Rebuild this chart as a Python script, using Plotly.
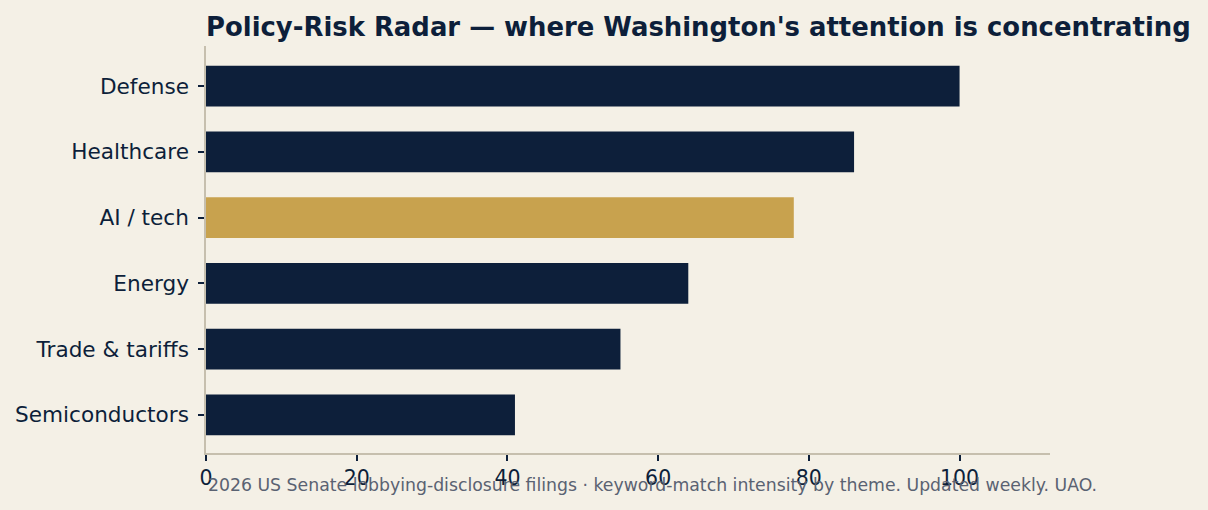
import plotly.graph_objects as go

categories = ["Defense", "Healthcare", "AI / tech", "Energy", "Trade & tariffs", "Semiconductors"]
values = [100, 86, 78, 64, 55, 41]
highlight = "AI / tech"

NAVY = "#0d1f3a"
GOLD = "#c8a24e"
BG = "#f4f0e6"
AXIS = "#c6bfae"

colors = [GOLD if c == highlight else NAVY for c in categories]

fig = go.Figure(go.Bar(
    x=values, y=categories, orientation="h",
    marker=dict(color=colors, line=dict(width=0)),
    width=0.62, hoverinfo="x+y",
))

fig.update_layout(
    width=1208, height=510,
    paper_bgcolor=BG, plot_bgcolor=BG,
    margin=dict(l=206, r=158, t=46, b=57),
    font=dict(family="DejaVu Sans", color=NAVY, size=20),
    showlegend=False,
    title=dict(
        text="<b>Policy-Risk Radar — where Washington's attention is concentrating</b>",
        x=0, xref="paper", xanchor="left",
        y=1 - 27 / 510, yref="container", yanchor="middle",
        font=dict(family="DejaVu Sans", size=25.9, color=NAVY),
    ),
    annotations=[dict(
        text="2026 US Senate lobbying-disclosure filings · keyword-match intensity by theme. Updated weekly. UAO.",
        x=0, xref="paper", xanchor="left",
        y=-32 / 407, yref="paper", yanchor="middle",
        showarrow=False,
        font=dict(family="DejaVu Sans", size=17.3, color="#5a6272"),
    )],
)

fig.update_xaxes(
    range=[0, 112], tickvals=[0, 20, 40, 60, 80, 100],
    showgrid=False, zeroline=False,
    showline=True, linecolor=AXIS, linewidth=1.5,
    ticks="outside", ticklen=6, tickwidth=1.5, tickcolor=NAVY,
    tickfont=dict(size=20.5, color=NAVY),
    ticklabelstandoff=0,
)
fig.update_yaxes(
    autorange=False, range=[5.58, -0.61],
    showgrid=False, zeroline=False,
    showline=True, linecolor=AXIS, linewidth=1.5,
    ticks="outside", ticklen=6, tickwidth=1.5, tickcolor=NAVY,
    tickfont=dict(size=21.6, color=NAVY),
    ticklabelstandoff=5,
)

fig.write_html("out.html")
